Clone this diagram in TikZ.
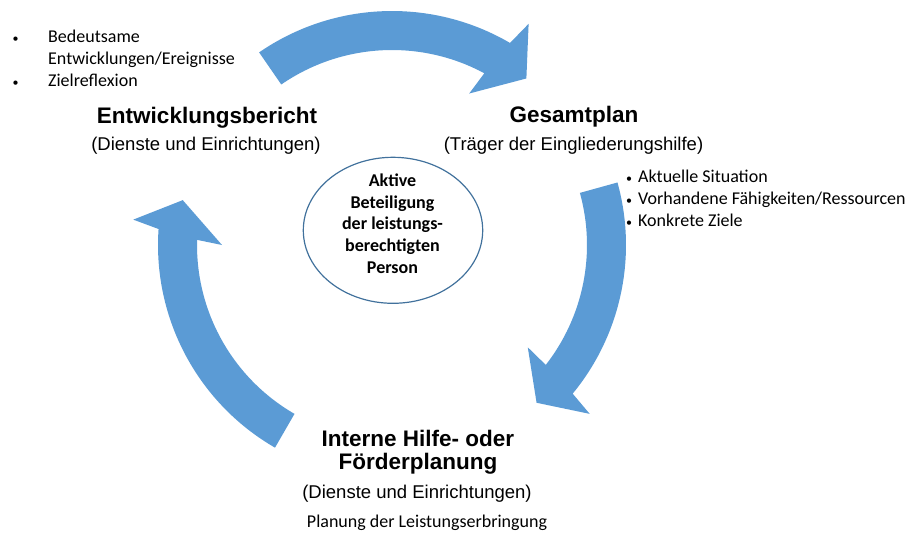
\documentclass[tikz,border=0pt]{standalone}
\usepackage{fontspec}
\setmainfont{Carlito}
\newfontfamily\arialfont{Liberation Sans}
\usetikzlibrary{positioning}
\definecolor{cycleblue}{HTML}{5B9BD5}
\definecolor{ringblue}{HTML}{41719C}

% curved block arrow: tail angle, barb angle, barb offset, tip angle
\newcommand{\cyclearrow}[4]{%
  \fill[cycleblue] (#1:234) arc[start angle=#1, end angle={#2+0.3*#3}, radius=234]
    -- (#2:260) -- (#4:214) -- ({#2+#3}:170) -- ({#2+0.73*#3}:195)
    arc[start angle={#2+0.73*#3}, end angle=#1, radius=195] -- cycle;}
% small bullet
\newcommand{\dotmark}{{\fontsize{12}{12}\selectfont•}}

\tikzset{
  title/.style={font=\arialfont\bfseries\fontsize{22.5}{23.3}\selectfont, align=center, inner sep=0pt},
  subtitle/.style={font=\arialfont\fontsize{18.5}{22}\selectfont, inner sep=0pt},
  note/.style={font=\fontsize{18}{22}\selectfont, align=left, inner sep=0pt},
  core/.style={font=\bfseries\fontsize{18}{21.7}\selectfont, align=center, inner sep=0pt},
}

\begin{document}
\begin{tikzpicture}[x=1pt, y=1pt]
    \useasboundingbox (0,0) rectangle (911,-533);
    % arrows round the cycle
    \begin{scope}[shift={(392,-245)}]
      \cyclearrow{124.6}{58.3}{4.7}{51.1}
      \cyclearrow{15.5}{-40.5}{3.5}{-47.5}
      \cyclearrow{240}{174.4}{5.6}{167.9}
    \end{scope}
    % centre
    \draw[ringblue, line width=1.2pt] (393,-230.3) ellipse[x radius=89.7, y radius=73];
    \node[core, anchor=base] (person) at (392.5,-273.3)
      {Aktive\\Beteiligung\\der leistungs-\\berechtigten\\Person};
    % Entwicklungsbericht
    \node[title, anchor=base] (bericht) at (207,-123.5) {Entwicklungsbericht};
    \node[subtitle, anchor=base] (berichtwho) at (206,-150.5) {(Dienste und Einrichtungen)};
    \node[note, anchor=base west] (berichtnotes) at (48,-86)
      {\llap{\dotmark\hspace{29.5pt}}Bedeutsame\\Entwicklungen/Ereignisse\\\llap{\dotmark\hspace{29.5pt}}Zielreflexion};
    % Gesamtplan
    \node[title, anchor=base] (gesamt) at (574,-122.7) {Gesamtplan};
    \node[subtitle, anchor=base] (gesamtwho) at (573.5,-150.5) {(Träger der Eingliederungshilfe)};
    \node[note, anchor=base west] (gesamtnotes) at (626,-226.7)
      {\dotmark\hspace{6pt}Aktuelle Situation\\\dotmark\hspace{6pt}Vorhandene Fähigkeiten/Ressourcen\\\dotmark\hspace{6pt}Konkrete Ziele};
    % Interne Hilfe- oder Foerderplanung
    \node[title, anchor=base] (intern) at (418,-469.3) {Interne Hilfe- oder\\Förderplanung};
    \node[subtitle, anchor=base] (internwho) at (417,-498.3) {(Dienste und Einrichtungen)};
    \node[note, anchor=base] (internnote) at (427,-527.3) {Planung der Leistungserbringung};
\end{tikzpicture}
\end{document}
